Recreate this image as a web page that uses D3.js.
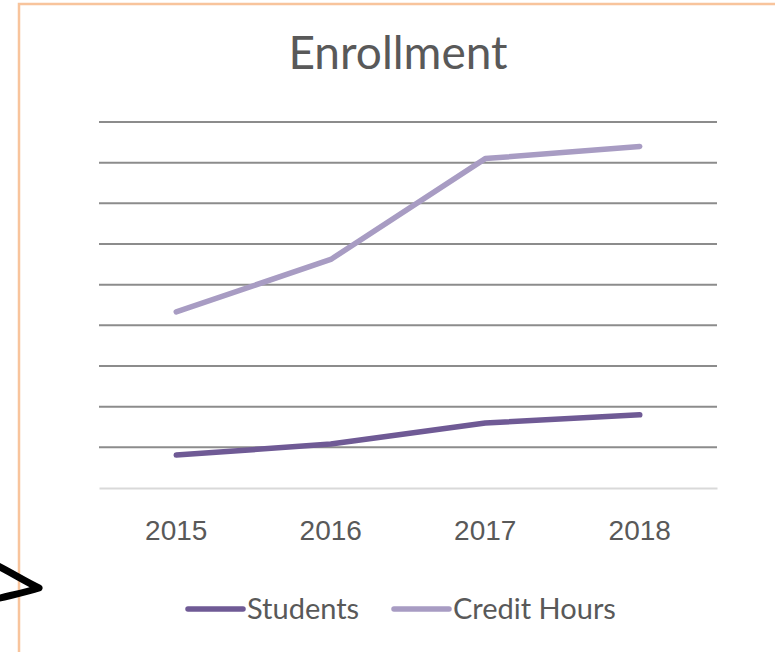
<!DOCTYPE html>
<html>
<head>
<meta charset="utf-8">
<script src="https://cdn.jsdelivr.net/npm/d3@7"></script>
<style>
  body { margin: 0; background: #fff; }
  svg { display: block; font-family: Lato, "Open Sans", sans-serif; }
  .grid line { stroke: #8c8c8c; stroke-width: 2; }
  .tick text { fill: #595959; font-size: 28px; }
</style>
</head>
<body>
<svg id="chart" width="775" height="652"></svg>
<script>
var years = ["2015", "2016", "2017", "2018"];
var students = [0.81, 1.08, 1.6, 1.8];
var creditHours = [4.33, 5.62, 8.1, 8.4];
var gridTicks = [1, 2, 3, 4, 5, 6, 7, 8, 9];
var seriesNames = ["Students", "Credit Hours"];
var seriesColors = ["#6f5a95", "#a89cc3"];

var margin = {top: 122, right: 58, bottom: 164, left: 99};
var width = 775 - margin.left - margin.right;
var height = 652 - margin.top - margin.bottom;

var svg = d3.select("#chart");

// orange frame around the chart area
svg.append("path")
    .attr("d", "M 19 652 L 19 4 L 775 4")
    .attr("fill", "none")
    .attr("stroke", "#f8c49c")
    .attr("stroke-width", 2.5);

// hand-drawn pen mark on the left
svg.append("path")
    .attr("d", "M -4 565 C 12 573, 26 582, 39 588 C 27 592, 12 595, -4 599")
    .attr("fill", "none")
    .attr("stroke", "#000")
    .attr("stroke-width", 7)
    .attr("stroke-linecap", "round")
    .attr("stroke-linejoin", "round");

svg.append("text")
    .attr("x", 398)
    .attr("y", 69)
    .attr("text-anchor", "middle")
    .attr("fill", "#595959")
    .style("font-size", "46px")
    .text("Enrollment");

var chart = svg.append("g")
    .attr("transform", `translate(${margin.left}, ${margin.top})`);

var xScale = d3.scaleBand()
    .domain(years)
    .range([0, width]);
var yScale = d3.scaleLinear()
    .domain([0, 9])
    .range([height, 0]);

chart.append("g")
    .attr("class", "grid")
    .selectAll("line")
    .data(gridTicks)
    .enter().append("line")
        .attr("x1", 0)
        .attr("x2", width)
        .attr("y1", function(d) { return yScale(d); })
        .attr("y2", function(d) { return yScale(d); });

var xAxis = d3.axisBottom(xScale).tickSize(0).tickPadding(32);
var xg = chart.append("g")
    .attr("class", "x axis")
    .attr("transform", `translate(0, ${height})`)
    .call(xAxis);
xg.select(".domain")
    .attr("stroke", "#d9d9d9")
    .attr("stroke-width", 2);

var line = d3.line()
    .x(function(d, i) { return xScale(years[i]) + xScale.bandwidth() / 2; })
    .y(function(d) { return yScale(d); });

[students, creditHours].forEach(function(values, i) {
  chart.append("path")
      .datum(values)
      .attr("d", line)
      .attr("fill", "none")
      .attr("stroke", seriesColors[i])
      .attr("stroke-width", 5.5)
      .attr("stroke-linecap", "round")
      .attr("stroke-linejoin", "round");
});

var legendX = [188, 394];
var legend = svg.selectAll("g.legend")
    .data(seriesNames)
    .enter().append("g")
        .attr("class", "legend")
        .attr("transform", function(d, i) { return `translate(${legendX[i]}, 609)`; });
legend.append("line")
    .attr("x1", 0)
    .attr("x2", 55)
    .attr("stroke", function(d, i) { return seriesColors[i]; })
    .attr("stroke-width", 5.5)
    .attr("stroke-linecap", "round");
legend.append("text")
    .attr("x", 59)
    .attr("y", 10)
    .attr("fill", "#595959")
    .style("font-size", "29px")
    .text(function(d) { return d; });
</script>
</body>
</html>
